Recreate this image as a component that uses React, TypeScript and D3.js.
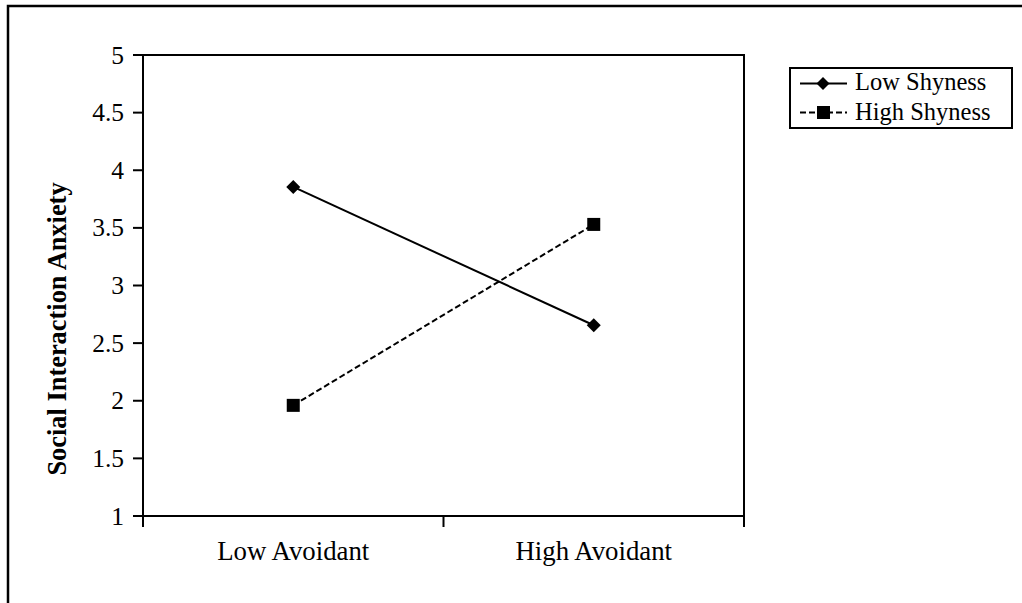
import React from "react";
import * as d3 from "d3";

const categories = ["Low Avoidant", "High Avoidant"];
const lowShyness = [3.855, 2.655];
const highShyness = [1.96, 3.53];
const yTicks = [1, 1.5, 2, 2.5, 3, 3.5, 4, 4.5, 5];
const yTickLabels = ["1", "1.5", "2", "2.5", "3", "3.5", "4", "4.5", "5"];
const seriesNames = ["Low Shyness", "High Shyness"];
const yTitle = "Social Interaction Anxiety";

const W = 1022;
const H = 603;
const FONT = "'Liberation Serif', 'Times New Roman', serif";

export default function App() {
  const x = d3.scaleBand<string>().domain(categories).range([143, 744]).padding(0);
  const y = d3.scaleLinear().domain([1, 5]).range([516, 55]);
  const cx = (c: string) => (x(c) as number) + x.bandwidth() / 2;

  const line = d3
    .line<[string, number]>()
    .x((d) => cx(d[0]))
    .y((d) => y(d[1]));

  const lowPts: [string, number][] = categories.map((c, i) => [c, lowShyness[i]]);
  const highPts: [string, number][] = categories.map((c, i) => [c, highShyness[i]]);

  const diamond = (px: number, py: number, r = 7) =>
    `M${px},${py - r}L${px + r},${py}L${px},${py + r}L${px - r},${py}Z`;
  const square = (px: number, py: number, s = 13) => (
    <rect x={px - s / 2} y={py - s / 2} width={s} height={s} fill="#000" />
  );

  const [x0, x1] = x.range();
  const [yb, yt] = y.range();
  const xTickPos = [x0, ...categories.slice(1).map((c) => x(c) as number), x1];

  return (
    <svg
      width={W}
      height={H}
      style={{ position: "absolute", left: 0, top: 0, background: "#fff" }}
      fontFamily={FONT}
    >
      {/* outer frame */}
      <path d={`M8,${H + 5}L8,6L${W + 5},6`} fill="none" stroke="#000" strokeWidth={2.5} />

      {/* plot frame */}
      <path d={`M${x0},${yt}L${x1},${yt}L${x1},${yb}`} fill="none" stroke="#000" strokeWidth={2} />
      {/* y axis */}
      <line x1={x0} y1={yt} x2={x0} y2={yb + 11} stroke="#000" strokeWidth={2} />
      {yTicks.map((t, i) => (
        <g key={t}>
          <line x1={x0 - 10} x2={x0} y1={y(t)} y2={y(t)} stroke="#000" strokeWidth={2} />
          <text x={124} y={y(t) + 8.5} fontSize={25.5} textAnchor="end" fill="#000">
            {yTickLabels[i]}
          </text>
        </g>
      ))}
      {/* x axis */}
      <line x1={x0} y1={yb} x2={x1} y2={yb} stroke="#000" strokeWidth={2} />
      {xTickPos.map((p, i) => (
        <line key={i} x1={p} x2={p} y1={yb} y2={yb + 11} stroke="#000" strokeWidth={2} />
      ))}
      {categories.map((c) => (
        <text key={c} x={cx(c)} y={560} fontSize={26.8} textAnchor="middle" fill="#000">
          {c}
        </text>
      ))}

      {/* y title */}
      <text
        transform={`translate(66,${329}) rotate(-90)`}
        textAnchor="middle"
        fontSize={26.4}
        fontWeight="bold"
        fill="#000"
      >
        {yTitle}
      </text>

      {/* series */}
      <path d={line(lowPts) || ""} fill="none" stroke="#000" strokeWidth={2} />
      <path d={line(highPts) || ""} fill="none" stroke="#000" strokeWidth={2} strokeDasharray="6,3" />
      {lowPts.map((d, i) => (
        <path key={"l" + i} d={diamond(cx(d[0]), y(d[1]))} fill="#000" />
      ))}
      {highPts.map((d, i) => (
        <g key={"h" + i}>{square(cx(d[0]), y(d[1]))}</g>
      ))}

      {/* legend */}
      <rect x={790} y={68} width={222} height={60} fill="#fff" stroke="#000" strokeWidth={2} />
      <line x1={800} x2={847} y1={83.5} y2={83.5} stroke="#000" strokeWidth={2} />
      <path d={diamond(823, 83.5, 6.5)} fill="#000" />
      <text x={855} y={89.5} fontSize={24.5} fill="#000">
        {seriesNames[0]}
      </text>
      <line x1={800} x2={847} y1={112.5} y2={112.5} stroke="#000" strokeWidth={2} strokeDasharray="6,3" />
      <rect x={817} y={106} width={13} height={13} fill="#000" />
      <text x={855} y={119.5} fontSize={24.5} fill="#000">
        {seriesNames[1]}
      </text>
    </svg>
  );
}
